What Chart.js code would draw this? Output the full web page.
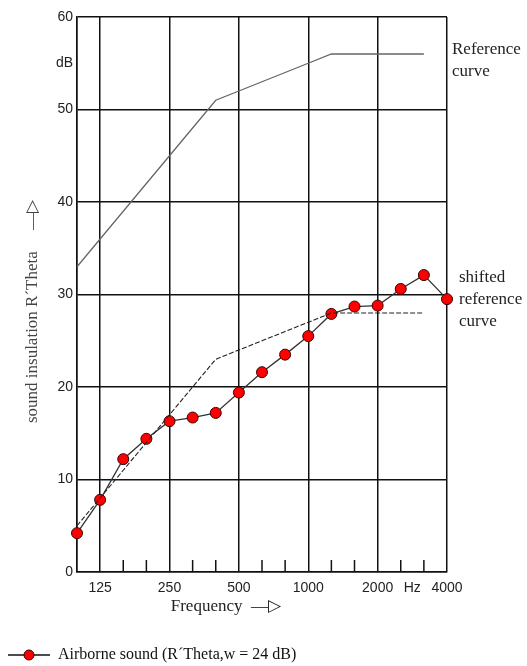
<!DOCTYPE html>
<html><head><meta charset="utf-8">
<script src="https://cdn.jsdelivr.net/npm/chart.js@4.4.1/dist/chart.umd.min.js"></script>
<style>html,body{margin:0;padding:0;background:#fff}canvas{display:block}</style>
</head><body>
<canvas id="c" width="527" height="666"></canvas>
<script>
// third-octave band centre frequencies (Hz)
const bands = ['100','125','160','200','250','315','400','500','630','800','1000','1250','1600','2000','2500','3150','4000'];
// measured airborne sound insulation R'Theta (dB)
const airborne = [4.2,7.8,12.2,14.4,16.3,16.7,17.2,19.4,21.6,23.5,25.5,27.9,28.7,28.8,30.6,32.1,29.5];
// reference curve (100 .. 3150 Hz)
const referenceCurve = [33,36,39,42,45,48,51,52,53,54,55,56,56,56,56,56];
// shifted reference curve (100 .. 3150 Hz)
const shiftedCurve = [5,8,11,14,17,20,23,24,25,26,27,28,28,28,28,28];
// axis tick labels
const xTickLabels = ['125','250','500','1000','2000','Hz','4000'];
const yTickValues = [0,10,20,30,40,50,60];
const yUnitLabel = 'dB';
const yUnitValue = 55;
const legendText = "Airborne sound (R\u00B4Theta,w = 24 dB)";

const serif = '"Liberation Serif", "Times New Roman", serif';
const sans = '"Liberation Sans", Arial, sans-serif';

function xPosOf(label){
  if (label === 'Hz') return (bands.indexOf('2500') + bands.indexOf('3150')) / 2;
  return bands.indexOf(label);
}
const labelledPositions = xTickLabels.map(xPosOf);
const majorX = xTickLabels.filter(l => l !== 'Hz').map(xPosOf).concat([0]);

function legendSymbol(){
  const c = document.createElement('canvas'); c.width = 48; c.height = 14;
  const g = c.getContext('2d');
  g.strokeStyle = '#111'; g.lineWidth = 1.5;
  g.beginPath(); g.moveTo(6,7); g.lineTo(48,7); g.stroke();
  g.fillStyle = '#ff0000'; g.strokeStyle = '#3a0000'; g.lineWidth = 1;
  g.beginPath(); g.arc(27,7,5,0,Math.PI*2); g.fill(); g.stroke();
  return c;
}
const symbol = legendSymbol();

const minorTicks = {
  id: 'minorTicks',
  afterDatasetsDraw(chart){
    const {ctx, chartArea, scales: {x}} = chart;
    ctx.save();
    ctx.strokeStyle = '#111'; ctx.lineWidth = 1.5;
    bands.forEach((b, i) => {
      if (i === 0 || i === bands.length - 1 || labelledPositions.includes(i)) return;
      const px = x.getPixelForValue(i);
      ctx.beginPath(); ctx.moveTo(px, chartArea.bottom); ctx.lineTo(px, chartArea.bottom - 12); ctx.stroke();
    });
    ctx.restore();
  }
};

const curveNotes = {
  id: 'curveNotes',
  afterDraw(chart){
    const {ctx, chartArea, scales: {y}} = chart;
    ctx.save();
    ctx.fillStyle = '#222'; ctx.font = '17px ' + serif;
    ctx.textAlign = 'left'; ctx.textBaseline = 'middle';
    const yr = y.getPixelForValue(referenceCurve[referenceCurve.length-1]);
    ctx.fillText('Reference', chartArea.right + 5, yr - 4);
    ctx.fillText('curve', chartArea.right + 5, yr + 18);
    const ys = y.getPixelForValue(30);
    ctx.fillText('shifted', chartArea.right + 12, ys - 17);
    ctx.fillText('reference', chartArea.right + 12, ys + 5);
    ctx.fillText('curve', chartArea.right + 12, ys + 27);
    ctx.restore();
  }
};

new Chart(document.getElementById('c'), {
  type: 'line',
  data: {
    datasets: [
      {
        label: 'Reference curve',
        data: referenceCurve.map((v,i)=>({x:i, y:v})),
        borderColor: '#666', borderWidth: 1.3, pointRadius: 0, fill: false, tension: 0, clip: false
      },
      {
        label: 'shifted reference curve',
        data: shiftedCurve.map((v,i)=>({x:i, y:v})),
        borderColor: '#222', borderWidth: 1.1, borderDash: [5,2], pointRadius: 0, fill: false, tension: 0, clip: false
      },
      {
        label: legendText,
        data: airborne.map((v,i)=>({x:i, y:v})),
        borderColor: '#333', borderWidth: 1.3,
        pointRadius: 5.5, pointBackgroundColor: '#ff0000', pointBorderColor: '#3a0000', pointBorderWidth: 1,
        fill: false, tension: 0, clip: false
      }
    ]
  },
  options: {
    responsive: false,
    animation: false,
    layout: { padding: { top: 17, right: 80, left: 0, bottom: -7 } },
    plugins: {
      tooltip: { enabled: false },
      legend: {
        position: 'bottom', align: 'start',
        labels: {
          usePointStyle: true, pointStyleWidth: 48, padding: 2,
          color: '#111', font: { family: serif, size: 16 },
          generateLabels(chart){
            return Chart.defaults.plugins.legend.labels.generateLabels(chart)
              .filter(it => it.datasetIndex === 2)
              .map(it => Object.assign(it, { pointStyle: symbol }));
          }
        }
      }
    },
    scales: {
      x: {
        type: 'linear', min: 0, max: bands.length - 1,
        afterBuildTicks(scale){
          scale.ticks = bands.map((b,i)=>({value:i})).concat([{value: xPosOf('Hz')}]).sort((a,b)=>a.value-b.value);
        },
        afterFit(scale){ scale.height = 73; },
        ticks: {
          autoSkip: false, maxRotation: 0, padding: 8,
          color: '#222', font: { family: sans, size: 14 },
          callback(v){ const k = labelledPositions.indexOf(v); return k >= 0 ? xTickLabels[k] : ''; }
        },
        grid: {
          drawTicks: false, lineWidth: 1.5,
          color(ctx){ const v = ctx.tick && ctx.tick.value; return (majorX.includes(v) || v === bands.length-1) ? '#111' : 'rgba(0,0,0,0)'; }
        },
        border: { color: '#111', width: 1.5 },
        title: {
          display: true, text: 'Frequency  \u2014\u25B7' + '\u00A0'.repeat(17),
          color: '#222', font: { family: serif, size: 17 }, padding: { top: 0, bottom: 28 }
        }
      },
      y: {
        min: 0, max: 60,
        afterBuildTicks(scale){
          scale.ticks = yTickValues.concat([yUnitValue]).sort((a,b)=>a-b).map(v=>({value:v}));
        },
        afterFit(scale){ scale.width = 77; },
        ticks: {
          padding: 4, color: '#222', font: { family: sans, size: 14 },
          callback(v){ return v === yUnitValue ? yUnitLabel : String(v); }
        },
        grid: {
          drawTicks: false, lineWidth: 1.5,
          color(ctx){ return ctx.tick && ctx.tick.value === yUnitValue ? 'rgba(0,0,0,0)' : '#111'; }
        },
        border: { color: '#111', width: 1.5 },
        title: {
          display: true, text: "sound insulation R\u00B4Theta" + '\u00A0'.repeat(5) + '\u2014\u25B7' + '\u00A0'.repeat(8),
          color: '#444', font: { family: serif, size: 17 }, padding: { top: 22, bottom: 0 }
        }
      }
    }
  },
  plugins: [minorTicks, curveNotes]
});
</script>
</body></html>
